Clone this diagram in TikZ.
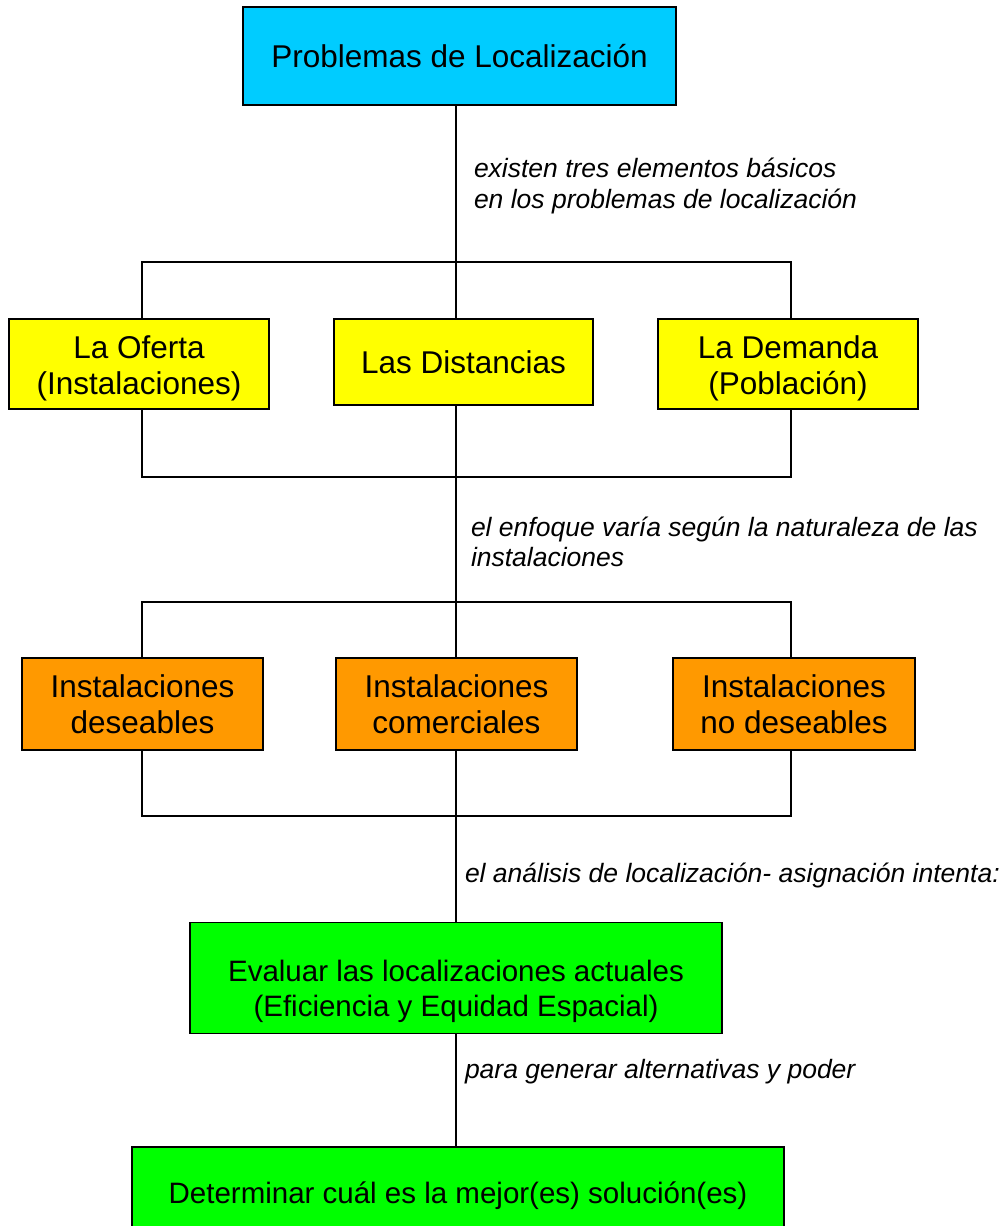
\documentclass[tikz,border=0pt]{standalone}
\usepackage{fontspec}
\setmainfont{Liberation Sans}
\usepackage{xcolor}
\usetikzlibrary{positioning}
\definecolor{cajaazul}{HTML}{00CCFF}
\definecolor{cajaamarilla}{HTML}{FFFF00}
\definecolor{cajanaranja}{HTML}{FF9900}
\definecolor{cajaverde}{HTML}{00FF00}
\begin{document}
\begin{tikzpicture}[x=1pt,y=-1pt,outer sep=0pt]
    \tikzstyle{caja} = [rectangle, draw=black, line width=1.7pt, align=center, text centered, inner sep=0pt, font=\fontsize{31.5}{36.5}\selectfont]
    \tikzstyle{C0} = [caja, fill=cajaazul, minimum width=433pt, minimum height=98pt]
    \tikzstyle{C1} = [caja, fill=cajaamarilla, minimum width=260pt, minimum height=90pt]
    \tikzstyle{C2} = [caja, fill=cajanaranja, minimum width=241pt, minimum height=92pt]
    \tikzstyle{C3} = [caja, fill=cajaverde, font=\fontsize{29.5}{34.5}\selectfont]
    \tikzstyle{nota} = [anchor=west, align=left, inner sep=0pt, font=\fontsize{26.5}{30.5}\selectfont\itshape]
    \tikzstyle{linea} = [line width=1.2pt]
    \useasboundingbox (0,0) rectangle (1007,1226);
    % cajas
    \node (prob) at (459.5,56) [C0] {Problemas de Localizaci\'on};
    \node (oferta) at (139,364) [C1] {\rule{0pt}{32pt}La Oferta\\(Instalaciones)};
    \node (dist) at (463.5,362) [C1, minimum width=259pt, minimum height=86pt] {Las Distancias};
    \node (demanda) at (788,364) [C1] {\rule{0pt}{32pt}La Demanda\\(Poblaci\'on)};
    \node (des) at (142.5,704) [C2] {Instalaciones\\deseables};
    \node (com) at (456.5,704) [C2] {Instalaciones\\comerciales};
    \node (nodes) at (794,704) [C2, minimum width=242pt] {Instalaciones\\no deseables};
    \node (eval) at (456,978) [C3, minimum width=532pt, minimum height=111pt] {\rule{0pt}{48pt}Evaluar las localizaciones actuales\\(Eficiencia y Equidad Espacial)};
    \node (det) at (458,1196) [C3, minimum width=652pt, minimum height=98pt] {Determinar cu\'al es la mejor(es) soluci\'on(es)};
    % notas
    \node (n1) at (474,186) [nota] {existen tres elementos b\'asicos\\en los problemas de localizaci\'on};
    \node (n2) at (471,542) [nota] {el enfoque var\'ia seg\'un la naturaleza de las\\instalaciones};
    \node (n3) at (465,875) [nota] {el an\'alisis de localizaci\'on- asignaci\'on intenta:};
    \node (n4) at (465,1072) [nota] {para generar alternativas y poder};
    % llaves
    \coordinate (b1) at (456,262);
    \coordinate (b1l) at (142,262);
    \coordinate (b1r) at (791,262);
    \coordinate (b2) at (456,477);
    \coordinate (b2l) at (142,477);
    \coordinate (b2r) at (791,477);
    \coordinate (b3) at (456,602);
    \coordinate (b3l) at (142,602);
    \coordinate (b3r) at (791,602);
    \coordinate (b4) at (456,816);
    \coordinate (b4l) at (142,816);
    \coordinate (b4r) at (791,816);
    \draw [linea] (b1 |- prob.south) -- (b1) -- (b1 |- dist.north);
    \draw [linea] (b1l |- oferta.north) -- (b1l) -- (b1r) -- (b1r |- demanda.north);
    \draw [linea] (b2l |- oferta.south) -- (b2l) -- (b2r) -- (b2r |- demanda.south);
    \draw [linea] (b2 |- dist.south) -- (b2) -- (b3) -- (b3 |- com.north);
    \draw [linea] (b3l |- des.north) -- (b3l) -- (b3r) -- (b3r |- nodes.north);
    \draw [linea] (b4l |- des.south) -- (b4l) -- (b4r) -- (b4r |- nodes.south);
    \draw [linea] (b4 |- com.south) -- (b4) -- (b4 |- eval.north);
    \draw [linea] (b4 |- eval.south) -- (b4 |- det.north);
\end{tikzpicture}
\end{document}
